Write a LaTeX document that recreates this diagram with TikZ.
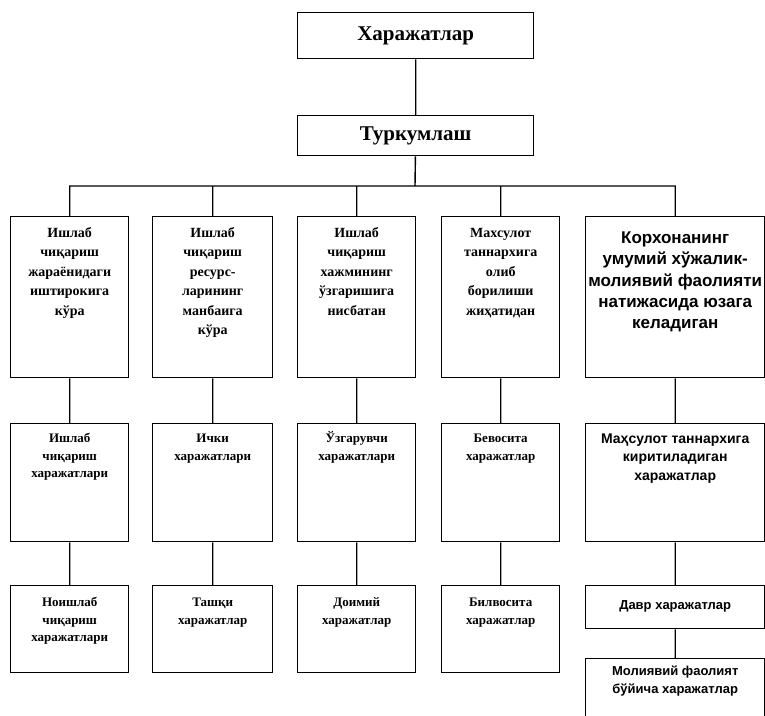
\documentclass[tikz,border=0pt]{standalone}
\usepackage{fontspec}
\setmainfont{Liberation Serif}
\newfontfamily\sansfont{Liberation Sans}

% #3 = distance from the top of the box to the first baseline
\newcommand{\cellbox}[4]{\parbox[t][#2][t]{#1}{\centering\rule{0pt}{#3}#4}}

\begin{document}
\begin{tikzpicture}[x=1pt, y=-1pt, line width=1.4pt,
		hd/.style={draw, inner sep=0pt, anchor=north west, minimum width=236, font=\bfseries\fontsize{21}{24}\selectfont},
		cell/.style={draw, inner sep=0pt, anchor=north west},
		rmA/.style={font=\bfseries\fontsize{14}{19.5}\selectfont},
		rmB/.style={font=\bfseries\fontsize{13}{17.8}\selectfont},
		sfA/.style={font=\sansfont\bfseries\fontsize{17}{21.2}\selectfont},
		sfB/.style={font=\sansfont\bfseries\fontsize{14}{18.5}\selectfont},
		sfC/.style={font=\sansfont\bfseries\fontsize{13}{18}\selectfont}]
		\useasboundingbox (0,0) rectangle (765,715);
		\draw
		node[hd, minimum height=46] at (297,12) (cost) {Харажатлар}
		node[hd, minimum height=40] at (297,115) (turk) {Туркумлаш}
		coordinate (bus) at (415,186)

		node[cell, rmA] at (10,216) (a1) {\cellbox{118pt}{161pt}{20.5pt}{Ишлаб\\чиқариш\\жараёнидаги\\иштирокига\\кўра}}
		node[cell, rmA] at (152,216) (a2) {\cellbox{120pt}{161pt}{20.5pt}{Ишлаб\\чиқариш\\ресурс-\\ларининг\\манбаига\\кўра}}
		node[cell, rmA] at (297,216) (a3) {\cellbox{118pt}{161pt}{20.5pt}{Ишлаб\\чиқариш\\хажмининг\\ўзгаришига\\нисбатан}}
		node[cell, rmA] at (441,216) (a4) {\cellbox{118pt}{161pt}{20.5pt}{Махсулот\\таннархига\\олиб\\борилиши\\жиҳатидан}}
		node[cell, sfA] at (585,216) (a5) {\cellbox{179pt}{161pt}{27pt}{Корхонанинг\\умумий хўжалик-\\молиявий фаолияти\\натижасида юзага\\келадиган}}

		node[cell, rmB] at (10,423) (b1) {\cellbox{118pt}{118pt}{18.5pt}{Ишлаб\\чиқариш\\харажатлари}}
		node[cell, rmB] at (152,423) (b2) {\cellbox{120pt}{118pt}{18.5pt}{Ички\\харажатлари}}
		node[cell, rmB] at (297,423) (b3) {\cellbox{118pt}{118pt}{18.5pt}{Ўзгарувчи\\харажатлари}}
		node[cell, rmB] at (441,423) (b4) {\cellbox{118pt}{118pt}{18.5pt}{Бевосита\\харажатлар}}
		node[cell, sfB] at (585,423) (b5) {\cellbox{179pt}{118pt}{19.5pt}{Маҳсулот таннархига\\киритиладиган\\харажатлар}}

		node[cell, rmB] at (10,585) (c1) {\cellbox{118pt}{87pt}{20.5pt}{Ноишлаб\\чиқариш\\харажатлари}}
		node[cell, rmB] at (152,585) (c2) {\cellbox{120pt}{87pt}{20.5pt}{Ташқи\\харажатлар}}
		node[cell, rmB] at (297,585) (c3) {\cellbox{118pt}{87pt}{20.5pt}{Доимий\\харажатлар}}
		node[cell, rmB] at (441,585) (c4) {\cellbox{118pt}{87pt}{20.5pt}{Билвосита\\харажатлар}}
		node[cell, sfC] at (585,585) (c5) {\cellbox{179pt}{43pt}{24pt}{Давр харажатлар}}
		node[cell, sfC] at (585,658) (d5) {\cellbox{179pt}{70pt}{16.5pt}{Молиявий фаолият\\бўйича харажатлар}}

		(cost) -- (turk)
		(turk) -- (bus)
		(a1.north) |- (bus)
		(a5.north) |- (bus)
		(a2) -- (a2 |- bus)
		(a3) -- (a3 |- bus)
		(a4) -- (a4 |- bus)

		(a1) -- (b1)
		(a2) -- (b2)
		(a3) -- (b3)
		(a4) -- (b4)
		(a5) -- (b5)

		(b1) -- (c1)
		(b2) -- (c2)
		(b3) -- (c3)
		(b4) -- (c4)
		(b5) -- (c5)
		(c5) -- (d5)
		;
	\end{tikzpicture}
\end{document}
